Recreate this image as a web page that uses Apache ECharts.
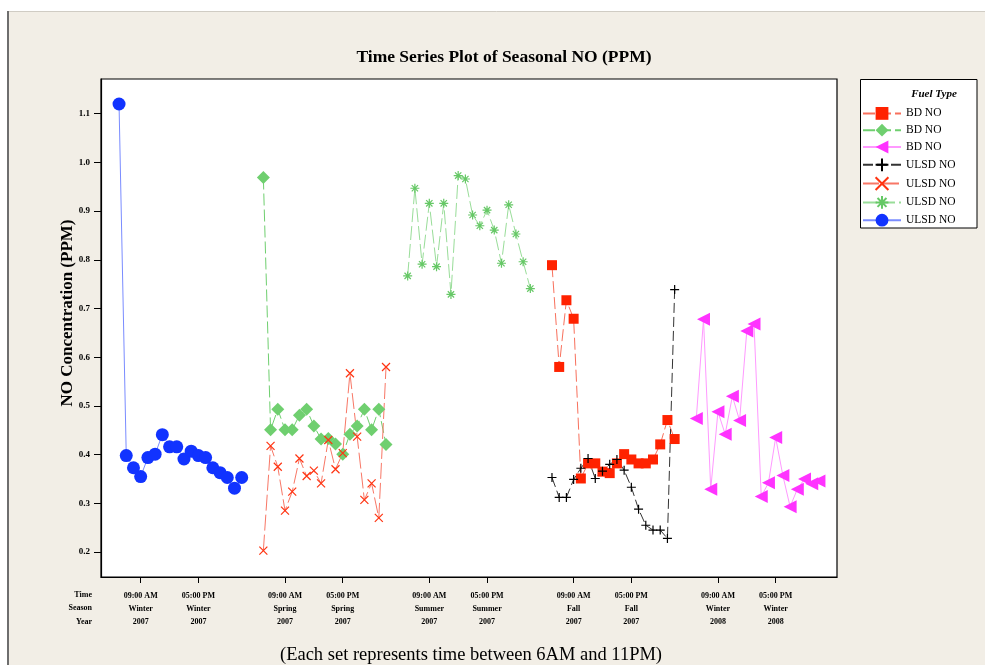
<!DOCTYPE html>
<html>
<head>
<meta charset="utf-8">
<script src="https://cdn.jsdelivr.net/npm/echarts@6/dist/echarts.min.js"></script>
<style>html,body{margin:0;padding:0;background:#fff;}#c{width:985px;height:665px;}</style>
</head>
<body>
<div id="c"></div>
<script>
// ---- data (hours 6AM..11PM for each season set) ----
const hours = [6,7,8,9,10,11,12,13,14,15,16,17,18,19,20,21,22,23];
const winter07ULSD = [1.12,0.398,0.373,0.355,0.394,0.401,0.441,0.416,0.416,0.391,0.407,0.398,0.394,0.373,0.363,0.353,0.331,0.353];
const springBD     = [0.969,0.451,0.493,0.451,0.451,0.481,0.493,0.459,0.432,0.433,0.422,0.401,0.442,0.459,0.493,0.451,0.493,0.421];
const springULSD   = [0.203,0.418,0.375,0.285,0.324,0.392,0.356,0.367,0.341,0.430,0.370,0.403,0.567,0.437,0.307,0.341,0.270,0.580];
const summerULSD   = [0.767,0.947,0.791,0.916,0.786,0.916,0.729,0.973,0.966,0.892,0.870,0.902,0.861,0.793,0.913,0.853,0.796,0.741];
const fallBD       = [0.789,0.580,0.717,0.679,0.351,0.382,0.382,0.365,0.362,0.382,0.401,0.390,0.382,0.382,0.390,0.421,0.471,0.432];
const fallULSD     = [0.353,0.312,0.312,0.349,0.372,0.392,0.351,0.366,0.380,0.390,0.368,0.333,0.288,0.255,0.245,0.245,0.228,0.739];
const winter08BD   = [0.474,0.678,0.329,0.488,0.442,0.520,0.470,0.654,0.668,0.314,0.342,0.435,0.357,0.293,0.329,0.350,0.340,0.346];

// ---- tick labels ----
const tickHours   = [9,17,9,17,9,17,9,17,9,17];
const tickSets    = [0,0,1,1,2,2,3,3,4,4];
const tickTimes   = ['09:00 AM','05:00 PM','09:00 AM','05:00 PM','09:00 AM','05:00 PM','09:00 AM','05:00 PM','09:00 AM','05:00 PM'];
const tickSeasons = ['Winter','Winter','Spring','Spring','Summer','Summer','Fall','Fall','Winter','Winter'];
const tickYears   = ['2007','2007','2007','2007','2007','2007','2007','2007','2008','2008'];
const rowHeaders  = ['Time','Season','Year'];
const yTicks = [0.2,0.3,0.4,0.5,0.6,0.7,0.8,0.9,1.0,1.1];

const SET_GAP = 20; // slots per season set on the time index axis
const pos = (set, hour) => set * SET_GAP + (hour - hours[0]);
const toData = (set, vals) => vals.map((v, i) => [pos(set, hours[i]), v]);
const tickPos = tickHours.map((h, i) => pos(tickSets[i], h));

const SERIF = 'Liberation Serif';
const chart = echarts.init(document.getElementById('c'), null, {renderer: 'canvas'});

const asterisk = 'path://M5,0L5,10M0,5L10,5M1.5,1.5L8.5,8.5M8.5,1.5L1.5,8.5';
const cross = 'path://M0,0L10,10M10,0L0,10';
const plus = 'path://M5,0L5,10M0,5L10,5';

function mk(name, set, vals, o) {
  return {
    name: name, type: 'line', data: toData(set, vals),
    symbol: o.symbol, symbolSize: o.size, symbolRotate: o.rotate || 0,
    itemStyle: o.stroke ? {color: 'rgba(0,0,0,0)', borderColor: o.mc, borderWidth: 1.2} : {color: o.mc},
    lineStyle: {color: o.lc, width: 1, type: o.dash || 'solid'},
    emphasis: {disabled: true}, animation: false, z: o.z || 2
  };
}

const series = [
  mk('BD NO [1]', 3, fallBD, {symbol: 'rect', size: 10, mc: '#ff2200', lc: '#f8705c', dash: [12, 4]}),
  mk('BD NO [2]', 1, springBD, {symbol: 'diamond', size: 13, mc: '#6fcf6f', lc: '#6fcf6f', dash: [12, 4]}),
  mk('BD NO [3]', 4, winter08BD, {symbol: 'triangle', size: 13, rotate: 90, mc: '#ff33ff', lc: '#ff99ff'}),
  mk('ULSD NO [1]', 3, fallULSD, {symbol: plus, size: 9, stroke: true, mc: '#000000', lc: '#333333', dash: [10, 4]}),
  mk('ULSD NO [2]', 1, springULSD, {symbol: cross, size: 8, stroke: true, mc: '#ff3311', lc: '#f87766', dash: [16, 4]}),
  mk('ULSD NO [3]', 2, summerULSD, {symbol: asterisk, size: 9, stroke: true, mc: '#66c866', lc: '#99dd99', dash: [14, 4]}),
  mk('ULSD NO [4]', 0, winter07ULSD, {symbol: 'circle', size: 13, mc: '#1133ff', lc: '#7a8cff'})
];

const BG = '#f2eee6';
const option = {
  backgroundColor: '#ffffff',
  animation: false,
  grid: {left: 101, top: 79, width: 736, height: 498, show: true, backgroundColor: '#ffffff', borderColor: '#000', borderWidth: 1.2, containLabel: false},
  xAxis: {
    type: 'value', min: -2.5, max: 99.5,
    splitLine: {show: false},
    axisLine: {show: true, onZero: false, lineStyle: {color: '#000', width: 1.2}},
    axisTick: {show: true, length: 6, lineStyle: {color: '#000'}, customValues: tickPos},
    axisLabel: {
      customValues: tickPos, margin: 12,
      formatter: function (v) {
        const i = tickPos.indexOf(Math.round(v));
        return i < 0 ? '' : tickTimes[i] + '\n' + tickSeasons[i] + '\n' + tickYears[i];
      },
      fontFamily: SERIF, fontWeight: 'bold', fontSize: 8, color: '#000', lineHeight: 13.3, align: 'center'
    }
  },
  yAxis: {
    type: 'value', min: 0.1487, max: 1.1713,
    splitLine: {show: false},
    axisLine: {show: true, onZero: false, lineStyle: {color: '#000', width: 1.2}},
    axisTick: {show: true, length: 7, lineStyle: {color: '#000'}, customValues: yTicks},
    axisLabel: {customValues: yTicks, margin: 11, formatter: v => v.toFixed(1), fontFamily: SERIF, fontWeight: 'bold', fontSize: 9, color: '#000'}
  },
  legend: {
    orient: 'vertical', left: 862, top: 107, itemWidth: 38, itemHeight: 16, itemGap: 4,
    padding: 0, z: 10,
    formatter: n => n.replace(/ \[\d+\]$/, ''),
    textStyle: {fontFamily: SERIF, fontSize: 11.5, color: '#000', padding: [3, 0, 0, 0]},
    selectedMode: false
  },
  graphic: [
    {type: 'rect', z: -10, silent: true, shape: {x: 8, y: 11, width: 977, height: 654}, style: {fill: BG}},
    {type: 'line', z: -9, silent: true, shape: {x1: 8, y1: 11.5, x2: 985, y2: 11.5}, style: {stroke: '#d0ccc4', lineWidth: 1}},
    {type: 'line', z: -9, silent: true, shape: {x1: 8, y1: 11, x2: 8, y2: 665}, style: {stroke: '#6e6e6e', lineWidth: 2}},
    {type: 'rect', z: 1, silent: true, shape: {x: 860.5, y: 79.5, width: 116.5, height: 148.5}, style: {fill: '#fff', stroke: '#000', lineWidth: 1}},
    {type: 'text', z: 11, silent: true, x: 934, y: 94, style: {text: 'Fuel Type', fontFamily: SERIF, fontWeight: 'bold', fontStyle: 'italic', fontSize: 11, fill: '#000', textAlign: 'center', textVerticalAlign: 'middle'}},
    {type: 'text', silent: true, x: 504, y: 57, style: {text: 'Time Series Plot of Seasonal NO (PPM)', fontFamily: SERIF, fontWeight: 'bold', fontSize: 17.5, fill: '#000', textAlign: 'center', textVerticalAlign: 'middle'}},
    {type: 'text', silent: true, x: 68, y: 313, rotation: Math.PI / 2, style: {text: 'NO Concentration (PPM)', fontFamily: SERIF, fontWeight: 'bold', fontSize: 17, fill: '#000', textAlign: 'center', textVerticalAlign: 'middle'}},
    {type: 'text', silent: true, x: 92, y: 595, style: {text: rowHeaders[0], fontFamily: SERIF, fontWeight: 'bold', fontSize: 8, fill: '#000', textAlign: 'right', textVerticalAlign: 'middle'}},
    {type: 'text', silent: true, x: 92, y: 608.3, style: {text: rowHeaders[1], fontFamily: SERIF, fontWeight: 'bold', fontSize: 8, fill: '#000', textAlign: 'right', textVerticalAlign: 'middle'}},
    {type: 'text', silent: true, x: 92, y: 621.6, style: {text: rowHeaders[2], fontFamily: SERIF, fontWeight: 'bold', fontSize: 8, fill: '#000', textAlign: 'right', textVerticalAlign: 'middle'}},
    {type: 'text', silent: true, x: 471, y: 655, style: {text: '(Each set represents time between 6AM and 11PM)', fontFamily: SERIF, fontSize: 18.5, fill: '#000', textAlign: 'center', textVerticalAlign: 'middle'}}
  ],
  series: series
};
chart.setOption(option);
</script>
</body>
</html>
